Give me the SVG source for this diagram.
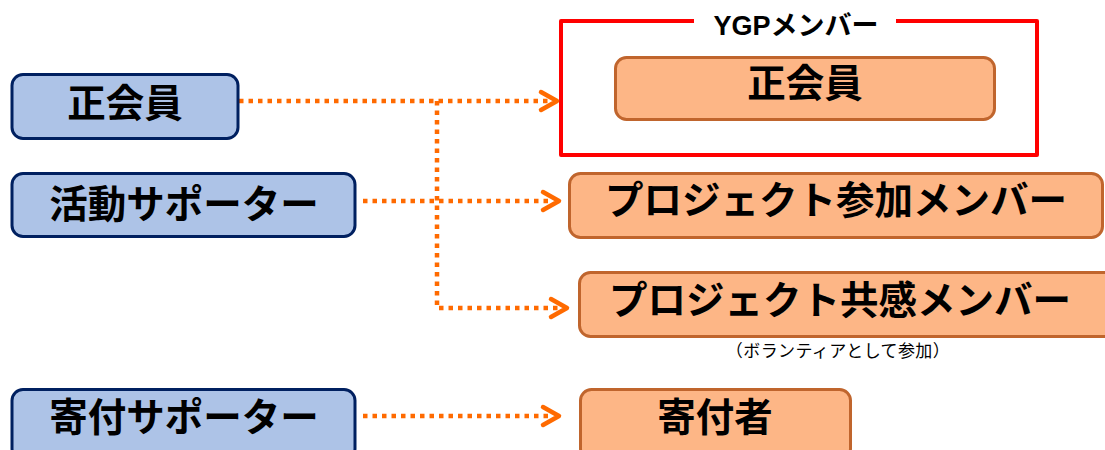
<svg xmlns="http://www.w3.org/2000/svg" width="1105" height="450" viewBox="0 0 1105 450">
  <defs>
    <style>
      .src { fill: #ADC3E7; stroke: #002060; stroke-width: 3; }
      .dst { fill: #FDB686; stroke: #C0652D; stroke-width: 3; }
      .lbl { font-family: "Noto Sans CJK JP", "Noto Sans", sans-serif; font-weight: bold; font-size: 38.5px; fill: #000; text-anchor: middle; }
      .conn { fill: none; stroke: #FF6A00; stroke-width: 4.5; stroke-dasharray: 4.5 5; }
      .head { fill: none; stroke: #FF6A00; stroke-width: 4.5; stroke-linecap: round; stroke-linejoin: round; }
      .frame { fill: none; stroke: #FF0000; stroke-width: 4; stroke-linejoin: round; }
      .title { font-family: "Liberation Sans", "Noto Sans CJK JP", sans-serif; font-weight: bold; font-size: 27px; fill: #000; text-anchor: middle; }
      .note { font-family: "Noto Sans CJK JP", sans-serif; font-size: 17px; letter-spacing: 0.4px; fill: #000; text-anchor: middle; }
    </style>
  </defs>

  <g id="ygp-frame">
    <path class="frame" d="M694,21 H561 V155 H1037 V21 H896"/>
    <text class="title" x="796" y="35">YGPメンバー</text>
  </g>

  <g id="connectors">
    <path class="conn" d="M239,101 H550"/>
    <path class="conn" d="M437,101 V308 H560"/>
    <path class="conn" d="M363,201 H552"/>
    <path class="conn" d="M363,416 H552"/>
    <path class="head" d="M541,92 L557,101 L541,110"/>
    <path class="head" d="M543,192 L559,201 L543,210"/>
    <path class="head" d="M551,299 L567,308 L551,317"/>
    <path class="head" d="M543,407 L559,416 L543,425"/>
  </g>

  <g id="src-seikaiin">
    <rect class="src" x="12" y="74.5" width="226" height="64" rx="11"/>
    <text class="lbl" x="125" y="117">正会員</text>
  </g>
  <g id="src-katsudo">
    <rect class="src" x="12" y="173.5" width="343" height="63" rx="11"/>
    <text class="lbl" x="184" y="218">活動サポーター</text>
  </g>
  <g id="src-kifu">
    <rect class="src" x="12" y="389.5" width="343" height="70" rx="11"/>
    <text class="lbl" x="184" y="431">寄付サポーター</text>
  </g>

  <g id="dst-seikaiin">
    <rect class="dst" x="615.5" y="57.5" width="379" height="62" rx="11"/>
    <text class="lbl" x="805" y="97">正会員</text>
  </g>
  <g id="dst-sanka">
    <rect class="dst" x="569.5" y="173.5" width="533" height="64" rx="11"/>
    <text class="lbl" x="836" y="214">プロジェクト参加メンバー</text>
  </g>
  <g id="dst-kyokan">
    <rect class="dst" x="579.5" y="272.5" width="540" height="64" rx="11"/>
    <text class="lbl" x="840" y="314">プロジェクト共感メンバー</text>
    <text class="note" x="838" y="357">（ボランティアとして参加）</text>
  </g>
  <g id="dst-kifusha">
    <rect class="dst" x="580.5" y="389.5" width="270" height="70" rx="11"/>
    <text class="lbl" x="715" y="431">寄付者</text>
  </g>
</svg>
